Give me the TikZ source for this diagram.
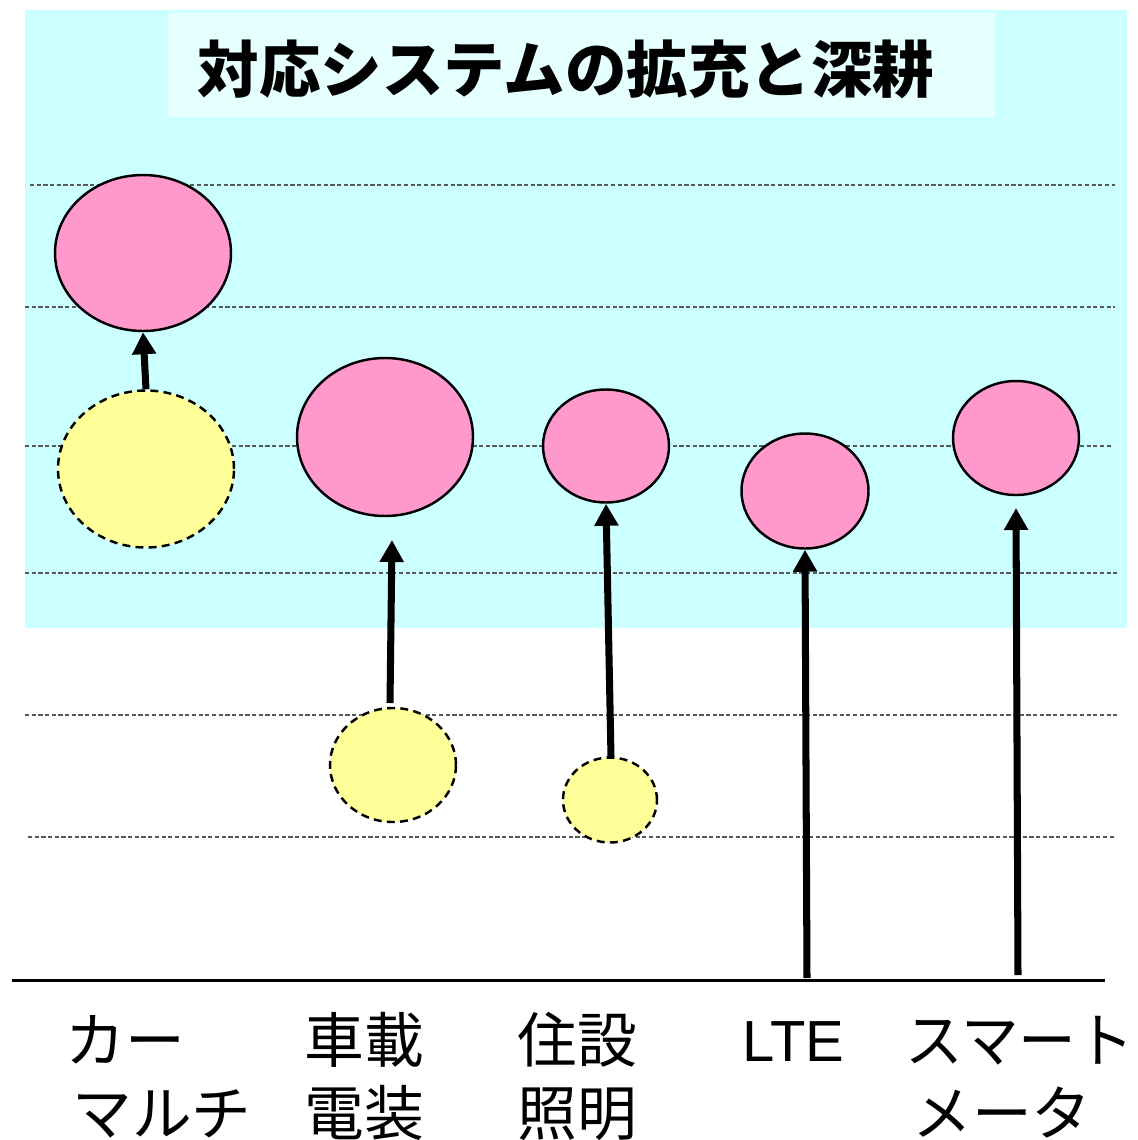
\documentclass[tikz,border=0pt]{standalone}
\usepackage{fontspec}
\newfontfamily\jp{Noto Sans CJK JP}
\newfontfamily\lat{Liberation Sans}
\usetikzlibrary{shapes.geometric,arrows.meta}
\definecolor{bgcyan}{HTML}{CCFFFF}
\definecolor{titlebg}{HTML}{E6FFFF}
\definecolor{pinkfill}{HTML}{FF99CC}
\definecolor{yellowfill}{HTML}{FFFF99}
\tikzset{
  gridline/.style={draw=black!65, line width=0.6pt, dash pattern=on 2.4pt off 1.4pt},
  pinkball/.style={ellipse, draw=black, line width=1.4pt, fill=pinkfill, inner sep=0pt},
  yellowball/.style={ellipse, draw=black, line width=1.4pt, fill=yellowfill, inner sep=0pt, dash pattern=on 4.5pt off 3pt},
  growth/.style={line width=4pt, -{Triangle[width=0.46cm,length=0.44cm]}},
  lbl/.style={anchor=base west, inner sep=0pt, font=\jp\fontsize{34}{40}\selectfont},
}
\begin{document}
\begin{tikzpicture}[x=0.02cm, y=-0.02cm]
\useasboundingbox (0,0) rectangle (1137,1140);
% backgrounds
\fill[bgcyan] (25,10) rectangle (1127,628);
\fill[titlebg] (168,13) rectangle (995,117);
\node[inner sep=0pt, font=\jp\bfseries\fontsize{35}{40}\selectfont] (title) at (566,69) {対応システムの拡充と深耕};
% grid lines
\draw[gridline] (30,185) -- (1115,185);
\draw[gridline] (25,307) -- (1115,307);
\draw[gridline] (25,446) -- (1113,446);
\draw[gridline] (25,573) -- (1117,573);
\draw[gridline] (25,715) -- (1117,715);
\draw[gridline] (28,837) -- (1115,837);
% base line
\draw[line width=1.7pt] (12,980) -- (1105,980);
% balls
\node[pinkball, minimum width=176*0.02cm, minimum height=156*0.02cm] (p1) at (143,253) {};
\node[yellowball, minimum width=176*0.02cm, minimum height=157*0.02cm] (y1) at (146,469) {};
\node[pinkball, minimum width=176*0.02cm, minimum height=158*0.02cm] (p2) at (385,437) {};
\node[yellowball, minimum width=126*0.02cm, minimum height=114*0.02cm] (y2) at (393,765) {};
\node[pinkball, minimum width=126*0.02cm, minimum height=113*0.02cm] (p3) at (606,446) {};
\node[yellowball, minimum width=94*0.02cm, minimum height=85*0.02cm] (y3) at (610,800) {};
\node[pinkball, minimum width=127*0.02cm, minimum height=115*0.02cm] (p4) at (805,491) {};
\node[pinkball, minimum width=126*0.02cm, minimum height=114*0.02cm] (p5) at (1016,438) {};
% arrow ends
\coordinate (s2) at (390,703);
\coordinate (t2) at (392,540);
\coordinate (s3) at (611,757);
\coordinate (s4) at (807,978);
\coordinate (s5) at (1018,975);
\coordinate (t5) at (1016,508);
% arrows
\draw[growth] (y1.north) -- (p1.south);
\draw[growth] (s2) -- (t2);
\draw[growth] (s3) -- (p3.south);
\draw[growth] (s4) -- (p4.south);
\draw[growth] (s5) -- (t5);
% labels
\node[lbl] (l1a) at (65,1062) {カー};
\node[lbl] (l1b) at (72,1135) {マルチ};
\node[lbl] (l2a) at (304,1062) {車載};
\node[lbl] (l2b) at (304,1135) {電装};
\node[lbl] (l3a) at (517,1062) {住設};
\node[lbl] (l3b) at (517,1135) {照明};
\node[lbl, font=\lat\fontsize{33}{40}\selectfont] (l4a) at (742,1061) {LTE};
\node[lbl, xscale=0.965] (l5a) at (905,1062) {スマート};
\node[lbl] (l5b) at (912,1135) {メータ};
\end{tikzpicture}
\end{document}
